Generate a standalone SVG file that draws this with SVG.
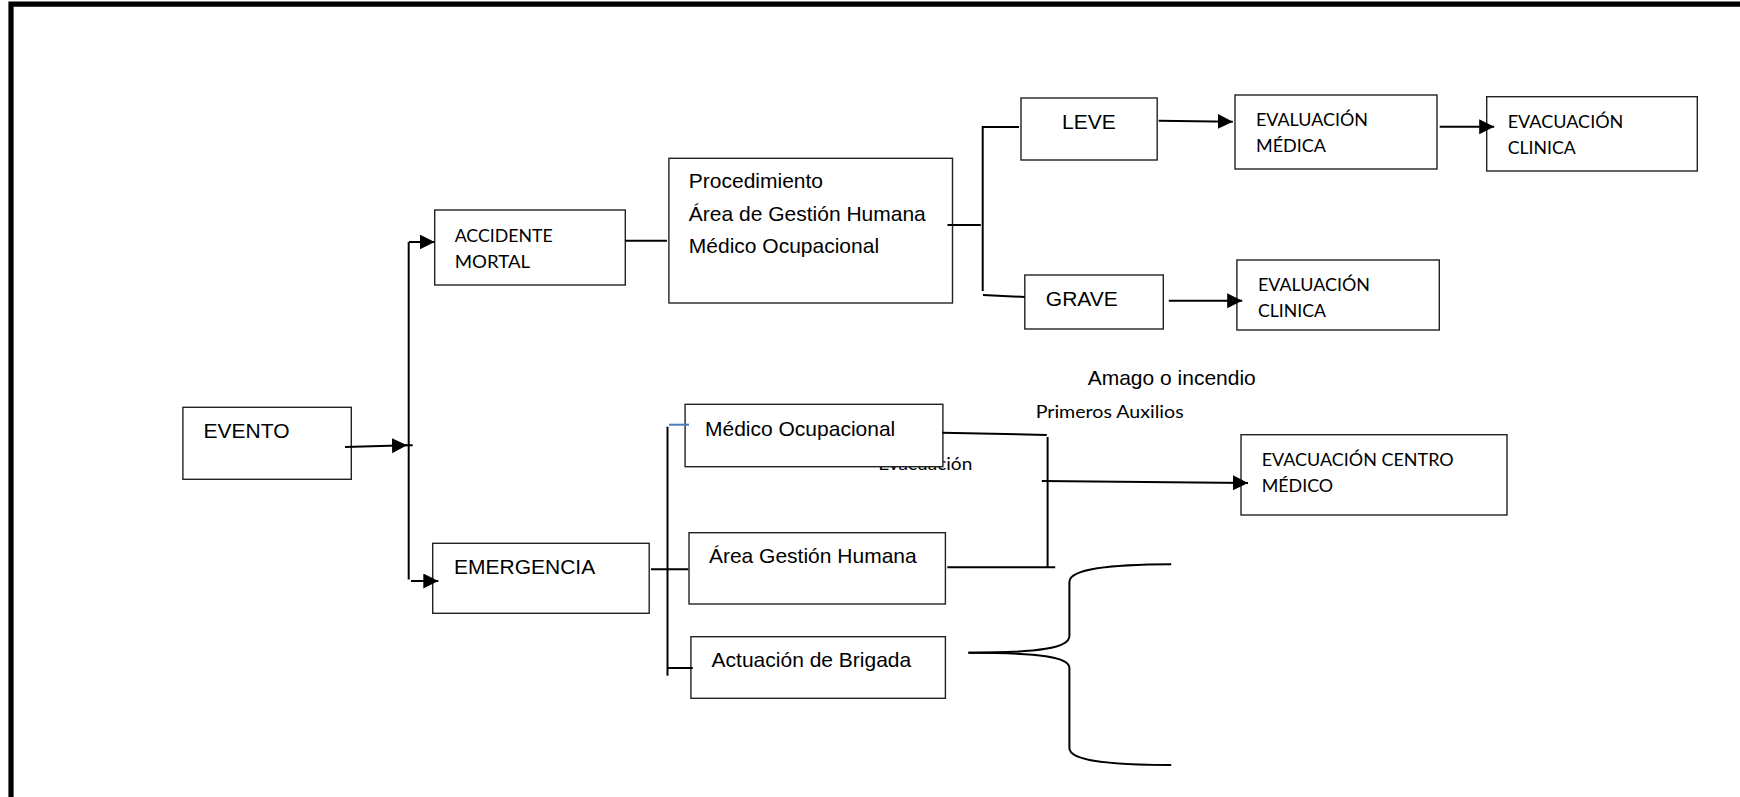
<svg xmlns="http://www.w3.org/2000/svg" width="1740" height="797" viewBox="0 0 1740 797">
<style>
.box{fill:#fff;stroke:#222;stroke-width:1.4}
.ar{font-family:"Liberation Sans",Arial,sans-serif;font-size:21px;fill:#000}
.cb{font-family:Lato,"Open Sans",sans-serif;font-size:18px;fill:#000}
.ln{fill:none;stroke:#000;stroke-width:2}
.arw{fill:none;stroke:#000;stroke-width:2;marker-end:url(#ah)}
</style>
<defs>
<marker id="ah" markerUnits="userSpaceOnUse" markerWidth="16" markerHeight="16" refX="15" refY="7.5" orient="auto">
<path d="M0,0 L15,7.5 L0,15 z" fill="#000"/>
</marker>
</defs>
<rect width="1740" height="797" fill="#fff"/>
<path d="M11 797 V4.2 H1740" fill="none" stroke="#000" stroke-width="5.2"/>

<g id="labels">
<text class="cb" x="972.3" y="470" text-anchor="end" textLength="94" lengthAdjust="spacingAndGlyphs">Evacuación</text>
<text class="ar" x="1087.7" y="385">Amago o incendio</text>
<text class="cb" x="1035.7" y="418" textLength="148" lengthAdjust="spacingAndGlyphs">Primeros Auxilios</text>
</g>

<g id="n-evento"><rect class="box" x="182.9" y="407.3" width="168.4" height="72"/><text class="ar" x="203.6" y="437.7">EVENTO</text></g>
<g id="n-accidente"><rect class="box" x="434.7" y="210" width="190.6" height="75"/><text class="cb" x="454.7" y="242" textLength="98" lengthAdjust="spacingAndGlyphs">ACCIDENTE</text><text class="cb" x="454.7" y="268" textLength="75.5" lengthAdjust="spacingAndGlyphs">MORTAL</text></g>
<g id="n-procedimiento"><rect class="box" x="668.9" y="158.3" width="283.6" height="144.7"/><text class="ar" x="688.8" y="188.3">Procedimiento</text><text class="ar" x="688.8" y="220.7">Área de Gestión Humana</text><text class="ar" x="688.8" y="253.3">Médico Ocupacional</text></g>
<g id="n-leve"><rect class="box" x="1021" y="98" width="136.2" height="62"/><text class="ar" x="1062" y="129">LEVE</text></g>
<g id="n-grave"><rect class="box" x="1024.8" y="275" width="138.5" height="54"/><text class="ar" x="1045.8" y="306">GRAVE</text></g>
<g id="n-eval-medica"><rect class="box" x="1235" y="95" width="202" height="74"/><text class="cb" x="1256" y="125.7" textLength="112" lengthAdjust="spacingAndGlyphs">EVALUACIÓN</text><text class="cb" x="1256" y="151.7" textLength="70" lengthAdjust="spacingAndGlyphs">MÉDICA</text></g>
<g id="n-evac-clinica"><rect class="box" x="1486.7" y="96.7" width="210.6" height="74.3"/><text class="cb" x="1507.7" y="128.3" textLength="115.7" lengthAdjust="spacingAndGlyphs">EVACUACIÓN</text><text class="cb" x="1507.7" y="154" textLength="68" lengthAdjust="spacingAndGlyphs">CLINICA</text></g>
<g id="n-eval-clinica"><rect class="box" x="1236.9" y="260" width="202.4" height="70"/><text class="cb" x="1258" y="290.7" textLength="112" lengthAdjust="spacingAndGlyphs">EVALUACIÓN</text><text class="cb" x="1258" y="316.7" textLength="68" lengthAdjust="spacingAndGlyphs">CLINICA</text></g>
<g id="n-emergencia"><rect class="box" x="432.7" y="543.3" width="216.5" height="70"/><text class="ar" x="454" y="574">EMERGENCIA</text></g>
<g id="n-medico"><rect class="box" x="685.1" y="404.3" width="257.8" height="62.4"/><text class="ar" x="705" y="436">Médico Ocupacional</text></g>
<g id="n-area"><rect class="box" x="689" y="532.7" width="256.4" height="71.3"/><text class="ar" x="708.9" y="563.3">Área Gestión Humana</text></g>
<g id="n-actuacion"><rect class="box" x="690.9" y="636.7" width="254.5" height="61.6"/><text class="ar" x="711.6" y="666.7">Actuación de Brigada</text></g>
<g id="n-evac-centro"><rect class="box" x="1241" y="434.7" width="266" height="80.3"/><text class="cb" x="1261.7" y="466" textLength="192" lengthAdjust="spacingAndGlyphs">EVACUACIÓN CENTRO</text><text class="cb" x="1261.7" y="491.7" textLength="71.5" lengthAdjust="spacingAndGlyphs">MÉDICO</text></g>

<g id="connectors">
<line class="arw" x1="345" y1="447" x2="407" y2="445.3"/>
<line class="ln" x1="406" y1="445.3" x2="412.7" y2="445.2"/>
<line class="ln" x1="408.7" y1="242" x2="408.7" y2="579.5"/>
<line class="arw" x1="409" y1="242" x2="434.7" y2="242"/>
<line class="arw" x1="411" y1="581" x2="438.3" y2="581"/>
<line class="ln" x1="625" y1="240.7" x2="667" y2="240.7"/>
<line class="ln" x1="947.5" y1="225" x2="980.8" y2="225"/>
<line class="ln" x1="982.7" y1="126" x2="982.7" y2="291"/>
<line class="ln" x1="982.7" y1="127" x2="1019" y2="127"/>
<line class="ln" x1="983" y1="295" x2="1024.8" y2="297"/>
<line class="arw" x1="1158.7" y1="120.7" x2="1232.8" y2="121.7"/>
<line class="arw" x1="1439.7" y1="126.7" x2="1494.2" y2="126.7"/>
<line class="arw" x1="1168.8" y1="300.7" x2="1242.2" y2="300.7"/>
<line class="ln" x1="651" y1="569.3" x2="688.3" y2="569.3"/>
<line class="ln" x1="667.5" y1="426.7" x2="667.5" y2="675.7"/>
<line x1="669" y1="424.7" x2="689" y2="424.7" stroke="#4a7ebb" stroke-width="2"/>
<line class="ln" x1="668" y1="668" x2="692.8" y2="668"/>
<line class="ln" x1="942.3" y1="432.7" x2="1046.8" y2="435"/>
<line class="ln" x1="1047.6" y1="437" x2="1047.6" y2="567.3"/>
<line class="ln" x1="947.3" y1="567.3" x2="1055.2" y2="567.3"/>
<line class="arw" x1="1041.8" y1="481" x2="1248" y2="483"/>
<path class="ln" d="M968.4 652.7 C1040 652.7 1069.4 648 1069.4 636 V582 C1069.4 569 1110 564.5 1171.2 564.3"/>
<path class="ln" d="M968.4 652.7 C1040 652.7 1069.4 657 1069.4 668 V748 C1069.4 761 1110 765 1171.2 765"/>
</g>
</svg>
